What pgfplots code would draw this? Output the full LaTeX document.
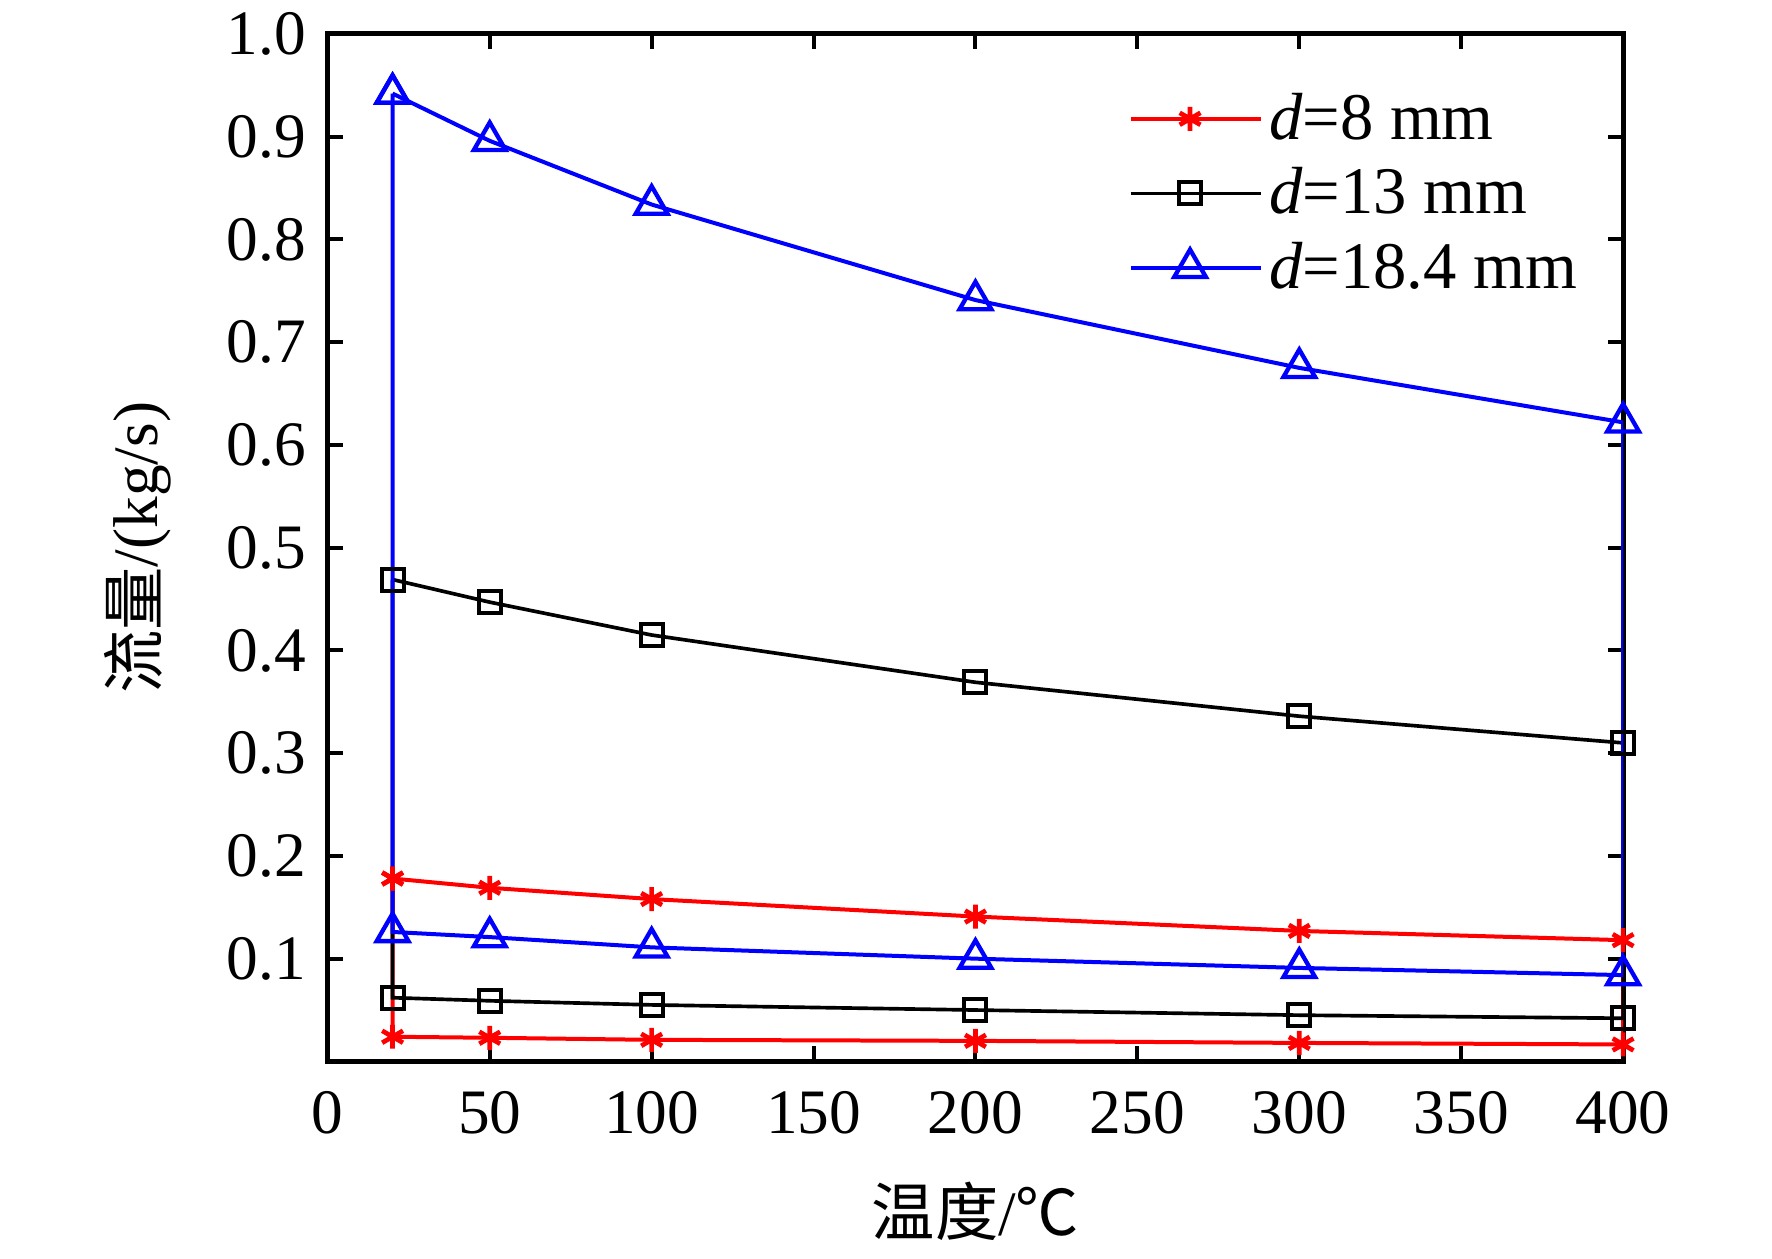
\documentclass[border=0pt]{standalone}
\usepackage{fontspec}
\setmainfont{Liberation Serif}
\newfontfamily\cjk{Noto Sans CJK SC}
\usepackage{pgfplots}
\pgfplotsset{compat=1.18}
\newcommand{\myfont}{\fontsize{19}{22}\selectfont}
\newcommand{\legfont}{\fontsize{20}{23}\selectfont}
\begin{document}
\begin{tikzpicture}
\begin{axis}[
  name=ax,
  scale only axis,
  width=388.8pt, height=308.4pt,
  xmin=0, xmax=400, ymin=0, ymax=1,
  xtick={0,50,...,400},
  ytick={0.1,0.2,0.3,0.4,0.5,0.6,0.7,0.8,0.9,1.0},
  yticklabel style={/pgf/number format/fixed, /pgf/number format/fixed zerofill, /pgf/number format/precision=1, xshift=-3pt},
  /pgf/number format/assume math mode=true,
  tick align=inside,
  major tick length=4.5pt,
  tick style={black, line width=1.2pt},
  axis line style={line width=1.5pt},
  every tick label/.append style={font=\myfont},
  xticklabel style={yshift=-5.5pt},
  xlabel={{\cjk 温度}/{\cjk ℃}},
  ylabel={{\cjk 流量}/(kg/s)},
  every axis x label/.style={at={(rel axis cs:0.5,0)},anchor=center,yshift=-45pt,font=\myfont},
  every axis y label/.style={at={(rel axis cs:0,0.5)},rotate=90,anchor=center,yshift=57pt,font=\myfont},
  legend style={at={(rel axis cs:0.61,0.956)}, anchor=north west, draw=none, fill=none, font=\legfont, row sep=3pt},
  legend cell align=left,
  legend image code/.code={\draw[mark repeat=2,mark phase=2] plot coordinates {(0pt,0pt) (17.85pt,0pt) (35.7pt,0pt)}; \path (35.7pt,0pt) -- (39pt,0pt);},
]
\addplot[red, line width=1.2pt, mark=asterisk, mark size=3.6pt, mark options={line width=1.4pt}] coordinates {
(20,0.178) (50,0.169) (100,0.158) (200,0.141) (300,0.127) (400,0.118)
(400,0.0165) (300,0.018) (200,0.020) (100,0.021) (50,0.023) (20,0.024) (20,0.178)};
\addlegendentry{\textit{d}=8 mm}
\addplot[black, line width=1.1pt, mark=square, mark size=3.3pt, mark options={line width=1.2pt}] coordinates {
(20,0.469) (50,0.447) (100,0.415) (200,0.369) (300,0.336) (400,0.310)
(400,0.042) (300,0.045) (200,0.050) (100,0.055) (50,0.059) (20,0.062) (20,0.469)};
\addlegendentry{\textit{d}=13 mm}
\addplot[blue, line width=1.2pt, mark=triangle, mark size=5.5pt, mark options={line width=1.3pt}] coordinates {
(20,0.942) (50,0.896) (100,0.834) (200,0.741) (300,0.675) (400,0.622)
(400,0.084) (300,0.091) (200,0.100) (100,0.111) (50,0.121) (20,0.126) (20,0.942)};
\addlegendentry{\textit{d}=18.4 mm}
\end{axis}
\pgfresetboundingbox
\path ([shift={(-98.4pt,-59.1pt)}]ax.south west) rectangle ([shift={(44.7pt,10.2pt)}]ax.north east);
\end{tikzpicture}
\end{document}
